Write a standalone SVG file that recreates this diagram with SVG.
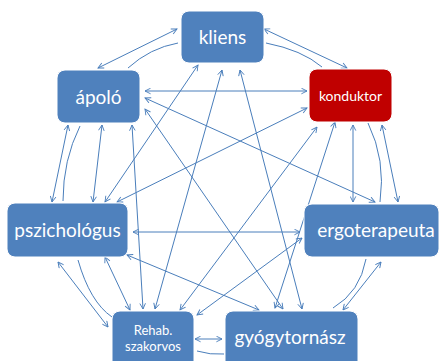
<svg xmlns="http://www.w3.org/2000/svg" width="446" height="361" viewBox="0 0 446 361">
  <defs>
    <marker id="arr" viewBox="0 0 10 10" refX="9" refY="5" markerWidth="7" markerHeight="7" markerUnits="userSpaceOnUse" orient="auto-start-reverse">
      <path d="M1,1 L9,5 L1,9" fill="none" stroke="#4A7EBB" stroke-width="1.3"/>
    </marker>
  </defs>
  <style>
    .node { fill: #4F81BD; stroke: #FFFFFF; stroke-width: 1; }
    .red { fill: #C00000; }
    .lbl { fill: #FFFFFF; font-family: Lato, "Liberation Sans", sans-serif; text-anchor: middle; }
    .big { font-size: 19px; }
    .small { font-size: 13px; }
    .c line, .c path { stroke: #4A7EBB; stroke-width: 1; fill: none; }
    .c line { marker-start: url(#arr); marker-end: url(#arr); }
  </style>

  <!-- connectors -->
  <g id="connectors" class="c">
    <!-- kliens links -->
    <line x1="98" y1="68" x2="177" y2="29"/>
    <path d="M178,43 Q150,48 128,68"/>
    <line x1="264" y1="29" x2="347" y2="68"/>
    <path d="M266,43 Q302,50 322,67"/>
    <line x1="198" y1="65" x2="105" y2="202"/>
    <line x1="222" y1="70" x2="155" y2="309"/>
    <line x1="240" y1="70" x2="302" y2="309"/>
    <!-- ápoló links -->
    <line x1="145" y1="91" x2="307" y2="91"/>
    <line x1="145" y1="98" x2="375" y2="202"/>
    <line x1="145" y1="109" x2="283" y2="309"/>
    <line x1="132" y1="125" x2="143" y2="309"/>
    <line x1="68" y1="125" x2="52" y2="202"/>
    <line x1="102" y1="125" x2="93" y2="202"/>
    <path d="M80,126 Q63,160 63,201"/>
    <!-- konduktor links -->
    <line x1="307" y1="108" x2="117" y2="202"/>
    <line x1="317" y1="127" x2="180" y2="310"/>
    <line x1="335" y1="122" x2="275" y2="308"/>
    <line x1="353" y1="125" x2="353" y2="202"/>
    <line x1="382" y1="125" x2="398" y2="202"/>
    <path d="M368,123 Q386,160 380,202"/>
    <!-- ergoterapeuta links -->
    <line x1="133" y1="232" x2="300" y2="232"/>
    <line x1="302" y1="238" x2="197" y2="315"/>
    <line x1="381" y1="262" x2="343" y2="310"/>
    <path d="M366,259 Q360,292 333,308"/>
    <!-- pszichológus links -->
    <line x1="127" y1="255" x2="259" y2="310"/>
    <line x1="58" y1="262" x2="108" y2="327"/>
    <line x1="105" y1="257" x2="130" y2="310"/>
    <path d="M78,260 Q90,302 112,317"/>
    <!-- Rehab. szakorvos – gyógytornász -->
    <line x1="195" y1="339" x2="222" y2="339"/>
    <path d="M197,351 Q210,355 224,354"/>
  </g>

  <g id="kliens">
    <rect class="node" x="181" y="11" width="83" height="52" rx="8"/>
    <text class="lbl big" x="222.5" y="44">kliens</text>
  </g>
  <g id="apolo">
    <rect class="node" x="57" y="70" width="83" height="53" rx="8"/>
    <text class="lbl big" x="98.5" y="104">ápoló</text>
  </g>
  <g id="konduktor">
    <rect class="node red" x="309" y="69" width="83" height="53" rx="8"/>
    <text class="lbl" x="350.5" y="101" font-size="14">konduktor</text>
  </g>
  <g id="pszichologus">
    <rect class="node" x="7" y="203" width="121" height="54" rx="8"/>
    <text class="lbl big" x="67.5" y="237">pszichológus</text>
  </g>
  <g id="ergoterapeuta">
    <rect class="node" x="304" y="204" width="135" height="53" rx="8"/>
    <text class="lbl big" x="376" y="237">ergoterapeuta</text>
  </g>
  <g id="rehab">
    <rect class="node" x="112" y="311" width="82" height="62" rx="8"/>
    <text class="lbl small" x="153" y="335">Rehab.</text>
    <text class="lbl small" x="153" y="351">szakorvos</text>
  </g>
  <g id="gyogytornasz">
    <rect class="node" x="225" y="311" width="133" height="62" rx="8"/>
    <text class="lbl big" x="290" y="344">gyógytornász</text>
  </g>
</svg>
